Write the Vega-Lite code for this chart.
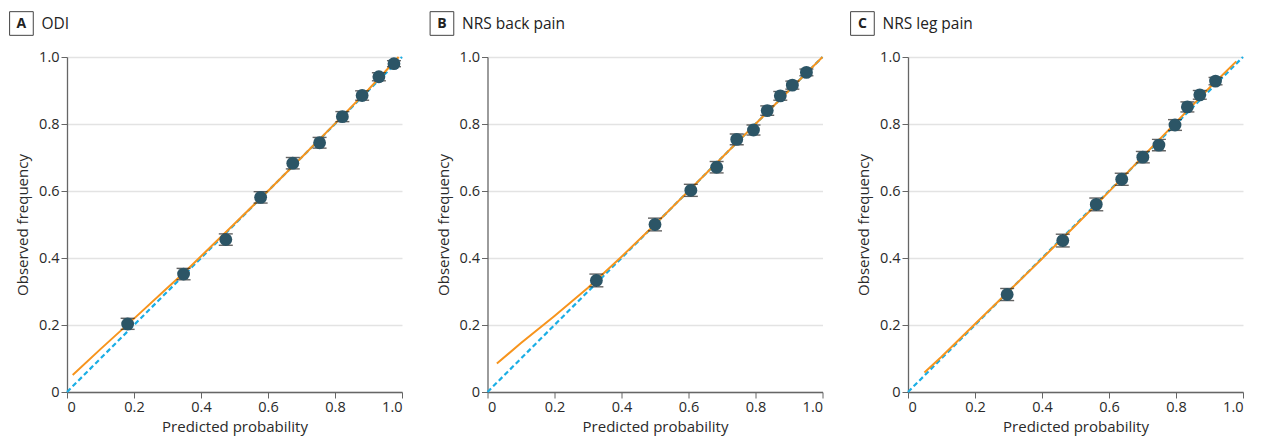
{
  "$schema": "https://vega.github.io/schema/vega-lite/v6.json",
  "padding": {"left": 7, "top": 9, "right": 5, "bottom": 5},
  "background": "white",
  "config": {
    "font": "Open Sans",
    "view": {"stroke": null},
    "axis": {
      "labelFont": "Open Sans", "titleFont": "Open Sans",
      "labelFontSize": 14.5, "titleFontSize": 15, "titleFontWeight": "normal",
      "labelColor": "#2a2a2a", "titleColor": "#2a2a2a",
      "domainColor": "#666", "tickColor": "#666", "tickSize": 6, "domainWidth": 1.3,
      "gridColor": "#e3e3e3", "gridWidth": 1.5
    }
  },
  "data": {"values": [
    {"panel": "A", "kind": "lbl", "letter": "A", "name": "ODI"},
    {"panel": "B", "kind": "lbl", "letter": "B", "name": "NRS back pain"},
    {"panel": "C", "kind": "lbl", "letter": "C", "name": "NRS leg pain"},
    {"panel": "A", "kind": "diag", "x": 0, "y": 0}, {"panel": "A", "kind": "diag", "x": 1, "y": 1},
    {"panel": "B", "kind": "diag", "x": 0, "y": 0}, {"panel": "B", "kind": "diag", "x": 1, "y": 1},
    {"panel": "C", "kind": "diag", "x": 0, "y": 0}, {"panel": "C", "kind": "diag", "x": 1, "y": 1},
    {"panel": "A", "kind": "cal", "x": 0.017, "y": 0.051},
    {"panel": "A", "kind": "cal", "x": 0.1, "y": 0.128},
    {"panel": "A", "kind": "cal", "x": 0.2, "y": 0.219},
    {"panel": "A", "kind": "cal", "x": 0.3, "y": 0.311},
    {"panel": "A", "kind": "cal", "x": 0.35, "y": 0.357},
    {"panel": "A", "kind": "cal", "x": 0.4, "y": 0.405},
    {"panel": "A", "kind": "cal", "x": 0.5, "y": 0.502},
    {"panel": "A", "kind": "cal", "x": 0.6, "y": 0.6},
    {"panel": "A", "kind": "cal", "x": 0.7, "y": 0.7},
    {"panel": "A", "kind": "cal", "x": 0.8, "y": 0.801},
    {"panel": "A", "kind": "cal", "x": 0.9, "y": 0.903},
    {"panel": "A", "kind": "cal", "x": 0.99, "y": 1.0},
    {"panel": "B", "kind": "cal", "x": 0.028, "y": 0.085},
    {"panel": "B", "kind": "cal", "x": 0.1, "y": 0.146},
    {"panel": "B", "kind": "cal", "x": 0.2, "y": 0.227},
    {"panel": "B", "kind": "cal", "x": 0.3, "y": 0.311},
    {"panel": "B", "kind": "cal", "x": 0.4, "y": 0.404},
    {"panel": "B", "kind": "cal", "x": 0.5, "y": 0.5},
    {"panel": "B", "kind": "cal", "x": 0.6, "y": 0.6},
    {"panel": "B", "kind": "cal", "x": 0.7, "y": 0.7},
    {"panel": "B", "kind": "cal", "x": 0.8, "y": 0.8},
    {"panel": "B", "kind": "cal", "x": 0.9, "y": 0.9},
    {"panel": "B", "kind": "cal", "x": 1.0, "y": 1.0},
    {"panel": "C", "kind": "cal", "x": 0.049, "y": 0.058},
    {"panel": "C", "kind": "cal", "x": 0.1, "y": 0.105},
    {"panel": "C", "kind": "cal", "x": 0.2, "y": 0.203},
    {"panel": "C", "kind": "cal", "x": 0.3, "y": 0.3},
    {"panel": "C", "kind": "cal", "x": 0.4, "y": 0.398},
    {"panel": "C", "kind": "cal", "x": 0.5, "y": 0.497},
    {"panel": "C", "kind": "cal", "x": 0.6, "y": 0.598},
    {"panel": "C", "kind": "cal", "x": 0.7, "y": 0.702},
    {"panel": "C", "kind": "cal", "x": 0.8, "y": 0.805},
    {"panel": "C", "kind": "cal", "x": 0.9, "y": 0.908},
    {"panel": "C", "kind": "cal", "x": 0.98, "y": 0.987},
    {"panel": "A", "kind": "pt", "x": 0.181, "y": 0.203, "lo": 0.187, "hi": 0.220},
    {"panel": "A", "kind": "pt", "x": 0.348, "y": 0.352, "lo": 0.335, "hi": 0.369},
    {"panel": "A", "kind": "pt", "x": 0.474, "y": 0.455, "lo": 0.438, "hi": 0.472},
    {"panel": "A", "kind": "pt", "x": 0.578, "y": 0.581, "lo": 0.564, "hi": 0.598},
    {"panel": "A", "kind": "pt", "x": 0.674, "y": 0.683, "lo": 0.666, "hi": 0.700},
    {"panel": "A", "kind": "pt", "x": 0.754, "y": 0.744, "lo": 0.728, "hi": 0.760},
    {"panel": "A", "kind": "pt", "x": 0.822, "y": 0.822, "lo": 0.807, "hi": 0.837},
    {"panel": "A", "kind": "pt", "x": 0.881, "y": 0.885, "lo": 0.871, "hi": 0.899},
    {"panel": "A", "kind": "pt", "x": 0.931, "y": 0.941, "lo": 0.929, "hi": 0.953},
    {"panel": "A", "kind": "pt", "x": 0.976, "y": 0.980, "lo": 0.971, "hi": 0.989},
    {"panel": "B", "kind": "pt", "x": 0.325, "y": 0.333, "lo": 0.314, "hi": 0.352},
    {"panel": "B", "kind": "pt", "x": 0.500, "y": 0.500, "lo": 0.481, "hi": 0.519},
    {"panel": "B", "kind": "pt", "x": 0.607, "y": 0.602, "lo": 0.584, "hi": 0.620},
    {"panel": "B", "kind": "pt", "x": 0.684, "y": 0.671, "lo": 0.654, "hi": 0.688},
    {"panel": "B", "kind": "pt", "x": 0.744, "y": 0.754, "lo": 0.738, "hi": 0.770},
    {"panel": "B", "kind": "pt", "x": 0.794, "y": 0.782, "lo": 0.767, "hi": 0.797},
    {"panel": "B", "kind": "pt", "x": 0.835, "y": 0.840, "lo": 0.826, "hi": 0.854},
    {"panel": "B", "kind": "pt", "x": 0.874, "y": 0.884, "lo": 0.871, "hi": 0.897},
    {"panel": "B", "kind": "pt", "x": 0.910, "y": 0.916, "lo": 0.904, "hi": 0.928},
    {"panel": "B", "kind": "pt", "x": 0.952, "y": 0.954, "lo": 0.944, "hi": 0.964},
    {"panel": "C", "kind": "pt", "x": 0.296, "y": 0.291, "lo": 0.273, "hi": 0.309},
    {"panel": "C", "kind": "pt", "x": 0.462, "y": 0.452, "lo": 0.433, "hi": 0.471},
    {"panel": "C", "kind": "pt", "x": 0.562, "y": 0.560, "lo": 0.541, "hi": 0.579},
    {"panel": "C", "kind": "pt", "x": 0.638, "y": 0.635, "lo": 0.617, "hi": 0.653},
    {"panel": "C", "kind": "pt", "x": 0.701, "y": 0.701, "lo": 0.684, "hi": 0.718},
    {"panel": "C", "kind": "pt", "x": 0.749, "y": 0.737, "lo": 0.720, "hi": 0.754},
    {"panel": "C", "kind": "pt", "x": 0.797, "y": 0.797, "lo": 0.781, "hi": 0.813},
    {"panel": "C", "kind": "pt", "x": 0.834, "y": 0.851, "lo": 0.836, "hi": 0.866},
    {"panel": "C", "kind": "pt", "x": 0.871, "y": 0.887, "lo": 0.874, "hi": 0.900},
    {"panel": "C", "kind": "pt", "x": 0.918, "y": 0.928, "lo": 0.917, "hi": 0.939}
  ]},
  "facet": {"column": {"field": "panel", "type": "nominal", "title": null, "header": {"labels": false, "title": null}}},
  "spacing": 20.5,
  "resolve": {"axis": {"x": "independent", "y": "independent"}},
  "spec": {
    "width": 335,
    "height": 335,
    "layer": [
      {
        "transform": [{"filter": "datum.kind == 'diag'"}],
        "mark": {"type": "line", "color": "#1aaee5", "strokeWidth": 2.2, "strokeDash": [5, 3]},
        "encoding": {
          "x": {"field": "x", "type": "quantitative",
            "scale": {"domain": [0, 1], "nice": false, "zero": false},
            "axis": {"title": "Predicted probability", "values": [0, 0.2, 0.4, 0.6, 0.8, 1], "grid": false,
              "labelExpr": "datum.value == 0 ? '0' : format(datum.value, '.1f')", "titlePadding": 6, "labelPadding": 2}},
          "y": {"field": "y", "type": "quantitative",
            "scale": {"domain": [0, 1], "nice": false, "zero": false},
            "axis": {"title": "Observed frequency", "values": [0, 0.2, 0.4, 0.6, 0.8, 1], "grid": true,
              "labelExpr": "datum.value == 0 ? '0' : format(datum.value, '.1f')", "titlePadding": 8, "labelPadding": 2}}
        }
      },
      {
        "transform": [{"filter": "datum.kind == 'cal'"}],
        "mark": {"type": "line", "color": "#f7941d", "strokeWidth": 2},
        "encoding": {
          "x": {"field": "x", "type": "quantitative", "title": "Predicted probability"},
          "y": {"field": "y", "type": "quantitative", "title": "Observed frequency"}
        }
      },
      {
        "transform": [{"filter": "datum.kind == 'pt'"}],
        "mark": {"type": "errorbar", "color": "#222", "ticks": {"size": 14, "color": "#222", "thickness": 1.4}, "rule": {"strokeWidth": 1.4}},
        "encoding": {
          "x": {"field": "x", "type": "quantitative", "title": "Predicted probability"},
          "y": {"field": "lo", "type": "quantitative", "title": "Observed frequency"},
          "y2": {"field": "hi"}
        }
      },
      {
        "transform": [{"filter": "datum.kind == 'pt'"}],
        "mark": {"type": "point", "shape": "circle", "filled": true, "size": 165, "color": "#2c5566", "opacity": 1},
        "encoding": {
          "x": {"field": "x", "type": "quantitative", "title": "Predicted probability"},
          "y": {"field": "y", "type": "quantitative", "title": "Observed frequency"}
        }
      },
      {
        "transform": [{"filter": "datum.kind == 'lbl'"}],
        "mark": {"type": "point", "shape": "square", "filled": false, "size": 560, "color": "#444", "strokeWidth": 1, "opacity": 1},
        "encoding": {"x": {"datum": -0.136, "type": "quantitative"}, "y": {"datum": 1.1, "type": "quantitative"}}
      },
      {
        "transform": [{"filter": "datum.kind == 'lbl'"}],
        "mark": {"type": "text", "fontSize": 14, "fontWeight": "bold", "align": "center", "baseline": "middle", "color": "#222"},
        "encoding": {"x": {"datum": -0.136, "type": "quantitative"}, "y": {"datum": 1.1, "type": "quantitative"}, "text": {"field": "letter", "type": "nominal"}}
      },
      {
        "transform": [{"filter": "datum.kind == 'lbl'"}],
        "mark": {"type": "text", "fontSize": 15.5, "align": "left", "baseline": "middle", "color": "#222"},
        "encoding": {"x": {"datum": -0.076, "type": "quantitative"}, "y": {"datum": 1.1, "type": "quantitative"}, "text": {"field": "name", "type": "nominal"}}
      }
    ]
  }
}
